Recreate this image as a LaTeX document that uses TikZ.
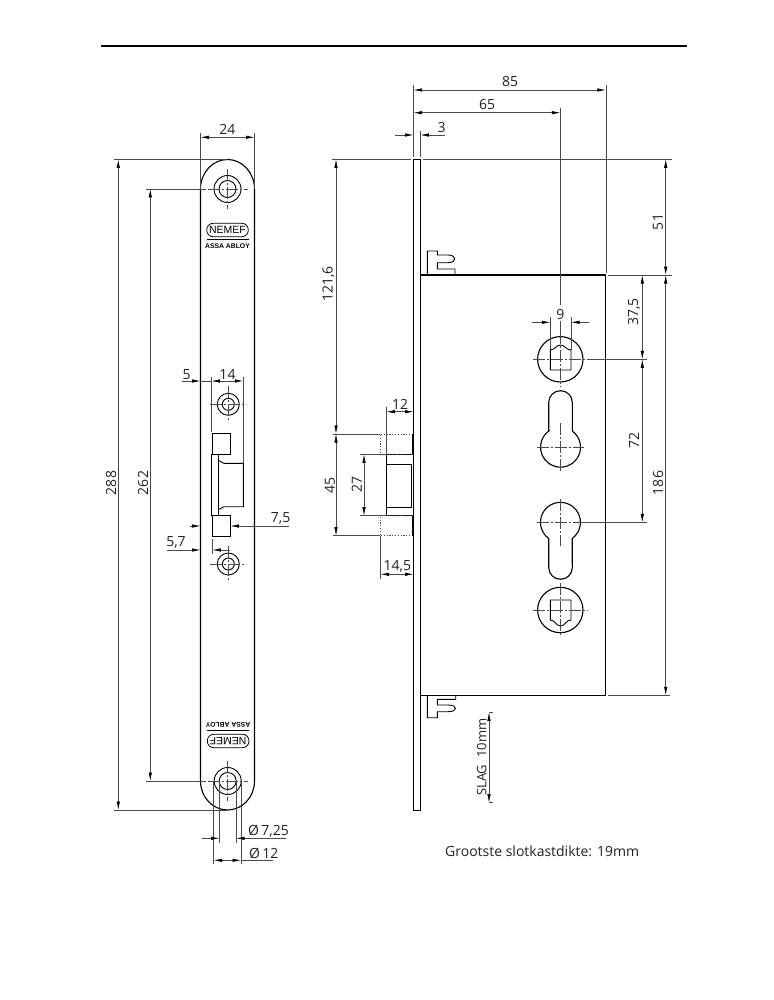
\documentclass[tikz,border=0pt]{standalone}
\usepackage{fontspec}
\setmainfont{Open Sans}
\newfontfamily\logofont{Liberation Sans}
\usetikzlibrary{arrows.meta}
\definecolor{dimline}{HTML}{4a4a4a}
\definecolor{dimtext}{HTML}{222222}

\begin{document}
\begin{tikzpicture}[
        x=1pt, y=-1pt,
        outline/.style={
            draw=black,
            line width=1.1pt
        },
        thinline/.style={
            draw=dimline,
            line width=0.6pt
        },
        centerline/.style={
            draw=dimline,
            line width=0.45pt,
            dash pattern=on 12pt off 2pt on 2pt off 2pt
        },
        hidden/.style={
            draw=dimline,
            line width=0.7pt,
            dash pattern=on 1.2pt off 1.6pt
        },
        tipin/.style={
            thinline,
            -{Latex[black,length=8.5pt,width=3.4pt]}
        },
        tipboth/.style={
            thinline,
            {Latex[black,length=8.5pt,width=3.4pt]}-{Latex[black,length=8.5pt,width=3.4pt]}
        },
        dimlabel/.style={
            text=dimtext,
            font=\fontsize{14}{14}\selectfont,
            inner sep=0pt
        },
        vertlabel/.style={
            dimlabel,
            rotate=90
        }
    ]
        \useasboundingbox (0,0) rectangle (773,1000);

        % Top rule
        \draw[line width=1.6pt] (101,46) -- (687,46);

        % Front plate
        \draw[outline] (200.5,189) arc[start angle=180, end angle=0, x radius=27pt, y radius=29.5pt]
            -- (254.5,781) arc[start angle=0, end angle=-180, x radius=27pt, y radius=29pt] -- cycle;

        % Screw holes
        \foreach \hx/\hy/\ro/\ri/\rc in {227.5/189/13.5/8.5/20, 227.7/781/13.5/8.5/20, 228.3/404.3/11/6/18, 228.3/564/11/6/18} {
            \draw[outline, line width=0.9pt] (\hx,\hy) circle[radius=\ro pt];
            \draw[outline, line width=0.9pt] (\hx,\hy) circle[radius=\ri pt];
            \draw[centerline] (\hx-\rc,\hy) -- (\hx+\rc,\hy);
            \draw[centerline] (\hx,\hy-\rc) -- (\hx,\hy+\rc);
        }

        % Logo top
        \draw[outline, line width=0.8pt, rounded corners=6.5pt] (206.7,223.3) rectangle (248.3,236.7);
        \node[font=\logofont\fontsize{10.5}{10.5}\selectfont, inner sep=0pt] (nemefa) at (227.5,230) {NEMEF};
        \draw[line width=0.7pt] (207,239.3) -- (248.7,239.3);
        \node[font=\logofont\bfseries\fontsize{6.8}{7}\selectfont, inner sep=0pt] (assaa) at (227.5,246) {ASSA ABLOY};

        % Logo bottom
        \draw[outline, line width=0.8pt, rounded corners=6.5pt] (207.3,734.3) rectangle (249,747.7);
        \node[font=\logofont\fontsize{10.5}{10.5}\selectfont, inner sep=0pt, rotate=180] (nemefb) at (228,741) {NEMEF};
        \draw[line width=0.7pt] (207,730.7) -- (248.7,730.7);
        \node[font=\logofont\bfseries\fontsize{6.8}{7}\selectfont, inner sep=0pt, rotate=180] (assab) at (228,725) {ASSA ABLOY};

        % Bolt, front
        \draw[outline, line width=0.9pt] (212.3,433.3) rectangle (230.3,454.3);
        \draw[outline, line width=0.9pt] (212.7,515.7) rectangle (230.3,536.7);
        \draw[outline, line width=0.9pt] (211.3,454.3) rectangle (218.7,515.7);
        \draw[outline, line width=0.9pt] (218.7,460.5) -- (224,463.3) -- (243.3,463.3) -- (243.3,506.7) -- (224,506.7) -- (218.7,509.5);

        % 24
        \draw[thinline] (200.5,132.7) -- (200.5,189);
        \draw[thinline] (254.5,132.7) -- (254.5,189);
        \draw[tipboth] (200.5,137.3) -- (254.5,137.3);
        \node[dimlabel] (d24) at (227.3,129.3) {24};

        % 288 and 262
        \draw[thinline] (114,159.5) -- (227,159.5);
        \draw[thinline] (114,810) -- (227,810);
        \draw[tipboth] (118.3,159.5) -- (118.3,810);
        \node[vertlabel] (d288) at (111,483) {288};
        \draw[thinline] (146,189) -- (206,189);
        \draw[thinline] (146,781) -- (206,781);
        \draw[tipboth] (150.3,189) -- (150.3,781);
        \node[vertlabel] (d262) at (143,483) {262};

        % 5 and 14
        \draw[thinline] (211.3,377) -- (211.3,432);
        \draw[thinline] (243.3,377) -- (243.3,463);
        \draw[tipin] (182.3,381) -- (200.5,381);
        \draw[tipboth] (211.3,381) -- (243.3,381);
        \draw[thinline] (200.5,381) -- (211.3,381);
        \node[dimlabel] (d5) at (186.7,375) {5};
        \node[dimlabel] (d14) at (227.5,374) {14};

        % 7,5
        \draw[tipin] (190,526) -- (200.5,526);
        \draw[tipin] (289,526) -- (230.3,526);
        \node[dimlabel] (d75) at (280.7,518) {7,5};

        % 5,7
        \draw[thinline] (212.3,539) -- (212.3,554);
        \draw[tipin] (167,550) -- (200.5,550);
        \draw[tipin] (230,550) -- (212.3,550);
        \node[dimlabel] (d57) at (176,542.7) {5,7};

        % Diameters
        \draw[thinline] (213.7,781) -- (213.7,864);
        \draw[thinline] (241,781) -- (241,864);
        \draw[thinline] (219.5,781) -- (219.5,843);
        \draw[thinline] (236,781) -- (236,843);
        \draw[tipin] (201.7,838.3) -- (219.5,838.3);
        \draw[tipin] (286,838.3) -- (236,838.3);
        \node[dimlabel, anchor=west] (dphia) at (248,831) {\O\,7,25};
        \draw[tipboth] (213.7,860.3) -- (241,860.3);
        \draw[thinline] (241,860.3) -- (273,860.3);
        \node[dimlabel, anchor=west] (dphib) at (249,853) {\O\,12};

        % Side view, plate and case
        \draw[outline] (413.5,159.3) rectangle (420.3,810.3);
        \draw[outline] (420.3,275) -- (605.8,275) -- (605.8,695.3) -- (420.3,695.3);

        % Latches
        \draw[outline, line width=0.9pt] (427.3,275) -- (427.3,251) -- (437.3,251) -- (437.3,255) -- (448,255)
            .. controls (457,255) and (457,262.7) .. (448,262.7) -- (437.3,262.7) -- (437.3,269) -- (455,269) -- (455,275);
        \draw[outline, line width=0.9pt] (427.3,695.3) -- (427.3,717.7) -- (437.3,717.7) -- (437.3,711.7) -- (448,711.7)
            .. controls (458,711.7) and (458,705) .. (448,705) -- (437.3,705) -- (437.3,699.3) -- (455.7,699.3) -- (455.7,695.3);

        % Bolt, side
        \draw[outline, line width=0.9pt] (386.3,454.3) rectangle (413.5,515.7);
        \draw[outline, line width=0.8pt] (386.3,464) -- (411.7,464) -- (411.7,507.3) -- (386.3,507.3);
        \draw[hidden] (413,434) -- (380.3,434) -- (380.3,454.3) -- (413,454.3);
        \draw[hidden] (413,535.7) -- (380.3,535.7) -- (380.3,515.7) -- (413,515.7);
        \draw[line width=1.6pt] (412.6,434) -- (412.6,454.3);
        \draw[line width=1.6pt] (412.6,515.7) -- (412.6,535.7);

        % Followers
        \draw[outline] (560.3,359.3) circle[radius=22.7pt];
        \draw[outline] (560.3,610) circle[radius=22.7pt];
        \draw[outline, line width=0.9pt] (550.3,370) -- (550.3,350) .. controls (555,350) and (556,345) .. (560.5,345)
            .. controls (565,345) and (566,350) .. (571,350) -- (571,370) -- cycle;
        \draw[outline, line width=0.9pt] (550.3,600) -- (550.3,620) .. controls (555,620) and (556,626) .. (560.5,626)
            .. controls (565,626) and (566,620) .. (571,620) -- (571,600) -- cycle;
        \draw[centerline] (533.3,359.3) -- (588,359.3);
        \draw[centerline] (533.3,610) -- (588,610);
        \draw[centerline] (560.3,332) -- (560.3,387);
        \draw[centerline] (560.3,583) -- (560.3,637);

        % Cylinder holes
        \draw[outline] (548.7,431) -- (548.7,402.5) arc[start angle=180, end angle=0, radius=11.8pt]
            -- (572.3,431) arc[start angle=54, end angle=-234, radius=20pt] -- cycle;
        \draw[outline] (548.7,538.5) arc[start angle=234, end angle=-54, radius=20pt]
            -- (572.3,567.5) arc[start angle=0, end angle=-180, radius=11.8pt] -- cycle;
        \draw[centerline] (536.7,447.3) -- (584,447.3);
        \draw[centerline] (560.3,423.3) -- (560.3,470.7);
        \draw[centerline] (537,522.3) -- (584,522.3);
        \draw[centerline] (560.3,499) -- (560.3,545.7);

        % 85, 65, 3
        \draw[thinline] (413.5,85) -- (413.5,157);
        \draw[thinline] (605.8,85) -- (605.8,273);
        \draw[tipboth] (413.5,90) -- (605.8,90);
        \node[dimlabel] (d85) at (510,82) {85};
        \draw[thinline] (560.3,108) -- (560.3,305);
        \draw[thinline] (560.3,321) -- (560.3,332);
        \draw[tipboth] (413.5,112.7) -- (560.3,112.7);
        \node[dimlabel] (d65) at (487,105) {65};
        \draw[thinline] (420.3,131) -- (420.3,157);
        \draw[tipin] (395,135) -- (413.5,135);
        \draw[tipin] (445,135) -- (420.3,135);
        \node[dimlabel] (d3) at (441.7,127.3) {3};

        % 121,6, 45, 27
        \draw[thinline] (331.7,159.3) -- (411,159.3);
        \draw[thinline] (422.5,159.3) -- (672,159.3);
        \draw[thinline] (332.7,434) -- (380.3,434);
        \draw[thinline] (332.7,535.7) -- (380.3,535.7);
        \draw[tipboth] (336,159.3) -- (336,434);
        \draw[tipboth] (336,434) -- (336,535.7);
        \node[vertlabel] (d1216) at (328.5,284) {121,6};
        \node[vertlabel] (d45) at (330,485) {45};
        \draw[thinline] (360,454.3) -- (386.3,454.3);
        \draw[thinline] (360,515.7) -- (386.3,515.7);
        \draw[tipboth] (364,454.3) -- (364,515.7);
        \node[vertlabel] (d27) at (356.7,484) {27};

        % 12, 14,5
        \draw[thinline] (386.3,406.7) -- (386.3,454.3);
        \draw[tipboth] (386.3,411.7) -- (413.5,411.7);
        \node[dimlabel] (d12) at (400,404) {12};
        \draw[thinline] (380.5,535.7) -- (380.5,579.3);
        \draw[tipboth] (380.5,574.3) -- (413.5,574.3);
        \node[dimlabel] (d145) at (397.3,566.7) {14,5};

        % 9
        \draw[thinline] (550.3,316.7) -- (550.3,350);
        \draw[thinline] (571,316.7) -- (571,350);
        \draw[tipin] (532.3,322.3) -- (550.3,322.3);
        \draw[tipin] (589,322.3) -- (571,322.3);
        \node[dimlabel] (d9) at (560.3,314) {9};

        % 51, 186, 37,5, 72
        \draw[thinline] (607.7,275) -- (672,275);
        \draw[thinline] (607.7,695.3) -- (670,695.3);
        \draw[thinline] (588,359.3) -- (647.3,359.3);
        \draw[thinline] (584,522.3) -- (647.3,522.3);
        \draw[tipboth] (665.7,159.3) -- (665.7,275);
        \draw[tipboth] (665.7,275) -- (665.7,695.3);
        \node[vertlabel] (d51) at (658,222) {51};
        \node[vertlabel] (d186) at (658,483) {186};
        \draw[tipboth] (642.3,275) -- (642.3,359.3);
        \draw[tipboth] (642.3,359.3) -- (642.3,522.3);
        \node[vertlabel] (d375) at (634,312) {37,5};
        \node[vertlabel] (d72) at (634,440.7) {72};

        % Stroke
        \draw[thinline] (493,712.3) -- (489,712.3);
        \draw[thinline] (493,802.7) -- (489,802.7);
        \draw[tipboth] (489,712.3) -- (489,802.7);
        \node[vertlabel, font=\fontsize{13}{13}\selectfont] (slag) at (481.7,757.3) {SLAG\ \ 10mm};

        % Note
        \node[dimlabel, anchor=west] (note) at (445,851) {Grootste slotkastdikte: 19mm};
    \end{tikzpicture}
\end{document}
